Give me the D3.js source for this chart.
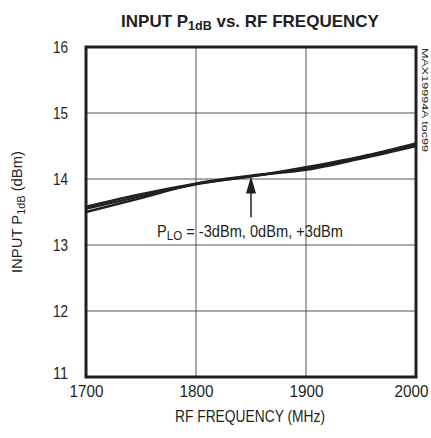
<!DOCTYPE html>
<html><head><meta charset="utf-8">
<script src="https://cdn.jsdelivr.net/npm/d3@7/dist/d3.min.js"></script>
<style>body{margin:0;background:#fff}svg{display:block}text{font-family:"Liberation Sans",Arial,sans-serif;fill:#231f20}</style>
</head><body><svg id="c" width="431" height="438"></svg>
<script>
const freqs = [1700, 1750, 1800, 1850, 1900, 1950, 2000];
const seriesM3 = [13.58, 13.77, 13.93, 14.04, 14.18, 14.34, 14.54];
const series0  = [13.55, 13.74, 13.92, 14.04, 14.16, 14.33, 14.52];
const seriesP3 = [13.50, 13.71, 13.93, 14.05, 14.14, 14.31, 14.50];
const xTicks = [1700, 1800, 1900, 2000];
const yTicks = [11, 12, 13, 14, 15, 16];

const svg = d3.select("#c");
const L = 86, R = 416, T = 47, B = 377;
const x = d3.scaleLinear().domain([1700, 2000]).range([L, R]);
const y = d3.scaleLinear().domain([11, 16]).range([B, T]);
const ink = "#231f20";

// grid
const grid = svg.append("g");
grid.selectAll(".gx").data(xTicks.slice(1, -1)).join("line")
  .attr("x1", d => x(d)).attr("x2", d => x(d)).attr("y1", T).attr("y2", B)
  .attr("stroke", "#555").attr("stroke-width", 1);
grid.selectAll(".gy").data(yTicks.slice(1, -1)).join("line")
  .attr("y1", d => y(d)).attr("y2", d => y(d)).attr("x1", L).attr("x2", R)
  .attr("stroke", "#555").attr("stroke-width", 1);

// axes tick labels via d3 axes
const xAxis = svg.append("g").attr("transform", `translate(0,${B})`)
  .call(d3.axisBottom(x).tickValues(xTicks).tickSize(0).tickPadding(8).tickFormat(d3.format("d")));
xAxis.select(".domain").remove();
xAxis.selectAll("text").attr("font-size", 16.5).attr("fill", ink)
  .attr("textLength", 34).attr("lengthAdjust", "spacingAndGlyphs");
xAxis.selectAll(".tick").filter(d => d === 2000).select("text").attr("x", -5);

const yAxis = svg.append("g").attr("transform", `translate(${L},0)`)
  .call(d3.axisLeft(y).tickValues(yTicks).tickSize(0).tickPadding(18).tickFormat(d3.format("d")));
yAxis.select(".domain").remove();
yAxis.selectAll("text").attr("font-size", 16.5).attr("fill", ink)
  .attr("textLength", 15).attr("lengthAdjust", "spacingAndGlyphs");
yAxis.selectAll(".tick").filter(d => d === 11).select("text").attr("dy", "0.1em");

// curves
const line = d3.line().x((d, i) => x(freqs[i])).y(d => y(d)).curve(d3.curveMonotoneX);
[seriesM3, series0, seriesP3].forEach(s => {
  svg.append("path").datum(s).attr("d", line).attr("fill", "none")
    .attr("stroke", ink).attr("stroke-width", 2.4);
});

// frame
svg.append("rect").attr("x", L).attr("y", T).attr("width", R - L).attr("height", B - T)
  .attr("fill", "none").attr("stroke", ink).attr("stroke-width", 3);

// annotation arrow
const ax = x(1850);
svg.append("line").attr("x1", ax).attr("x2", ax).attr("y1", y(13.42)).attr("y2", y(13.8))
  .attr("stroke", ink).attr("stroke-width", 1.5);
svg.append("path")
  .attr("d", `M${ax},${y(14.04)} L${ax - 5},${y(13.78)} L${ax + 5},${y(13.78)} Z`)
  .attr("fill", ink);

const ann = svg.append("text").attr("x", 157).attr("y", 237).attr("font-size", 16.5);
ann.append("tspan").text("P");
ann.append("tspan").attr("font-size", 13).attr("dy", 3).text("LO");
ann.append("tspan").attr("dy", -3).text(" =  -3dBm, 0dBm, +3dBm");
ann.attr("textLength", 186).attr("lengthAdjust", "spacingAndGlyphs");

// title
const title = svg.append("text").attr("x", 250).attr("y", 27).attr("text-anchor", "middle")
  .attr("font-size", 17).attr("font-weight", "bold");
title.append("tspan").text("INPUT P");
title.append("tspan").attr("font-size", 12.5).attr("dy", 3).text("1dB");
title.append("tspan").attr("dy", -3).text(" vs. RF FREQUENCY");

// axis titles
svg.append("text").attr("x", 250).attr("y", 422).attr("text-anchor", "middle")
  .attr("font-size", 16)
  .attr("textLength", 150).attr("lengthAdjust", "spacingAndGlyphs")
  .text("RF FREQUENCY (MHz)");

const yt = svg.append("text").attr("transform", `translate(22,${(T + B) / 2}) rotate(-90)`)
  .attr("text-anchor", "middle").attr("font-size", 15);
yt.append("tspan").text("INPUT P");
yt.append("tspan").attr("font-size", 11).attr("dy", 3).text("1dB");
yt.append("tspan").attr("dy", -3).text(" (dBm)");
yt.attr("textLength", 122).attr("lengthAdjust", "spacingAndGlyphs");

// side label
svg.append("text").attr("transform", `translate(422,48) rotate(90)`)
  .attr("font-size", 9.5)
  .attr("textLength", 104).attr("lengthAdjust", "spacingAndGlyphs")
  .text("MAX19994A toc99");
</script></body></html>
